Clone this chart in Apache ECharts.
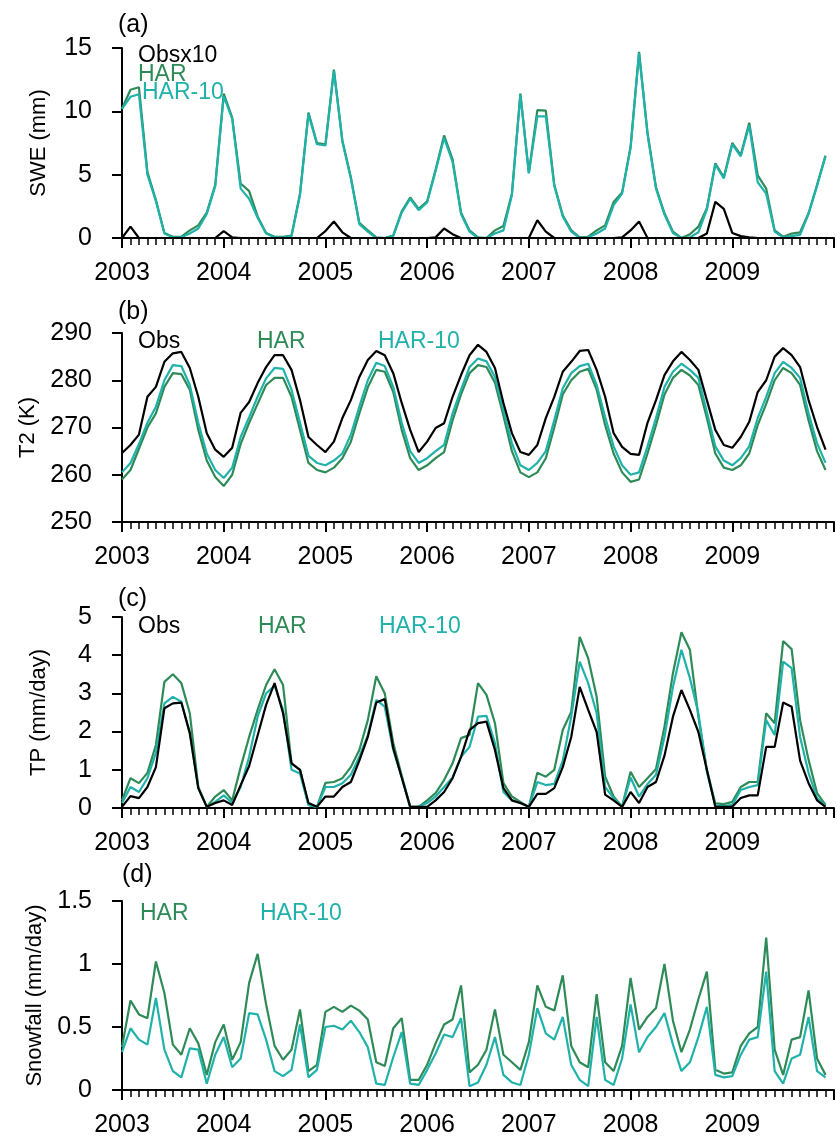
<!DOCTYPE html>
<html>
<head>
<meta charset="utf-8">
<script src="https://cdn.jsdelivr.net/npm/echarts@6/dist/echarts.min.js"></script>
<style>
  html, body { margin: 0; padding: 0; background: #fff; }
  #chart { width: 837px; height: 1143px; }
</style>
</head>
<body>
<div id="chart"></div>
<script>
// monthly values, Jan 2003 .. Dec 2009 (index = month since Jan 2003)
var yearLabels = ['2003', '2004', '2005', '2006', '2007', '2008', '2009'];

// (a) SWE (mm), obs already multiplied by 10
var sweObsX10 = [0,0.9,0,0,0,0,0,0,0,0,0,0, 0.55,0.05,0,0,0,0,0,0,0,0,0,0,
  0.55,1.3,0.45,0,0,0,0,0,0,0,0,0, 0,0.05,0.75,0.3,0,0,0,0,0,0,0,0,
  0,1.4,0.5,0,0,0,0,0,0,0,0,0.05, 0.6,1.3,0,0,0,0,0,0,0,0.35,2.85,2.3,
  0.4,0.15,0.05,0,0,0,0,0,0,0,0,0];
var sweHar = [10.2,11.7,11.9,5.2,3.0,0.4,0.1,0.1,0.6,1.0,2.0,4.2,
  11.4,9.5,4.3,3.7,1.7,0.4,0.1,0.1,0.2,3.5,9.9,7.5,
  7.4,13.3,7.7,4.8,1.2,0.6,0.05,0,0.2,2.1,3.2,2.3,
  2.9,5.4,8.1,6.2,2.0,0.6,0.05,0,0.6,0.95,3.5,11.4,
  5.15,10.1,10.05,4.2,1.8,0.6,0.05,0.1,0.6,1.0,2.85,3.6,
  7.2,14.7,8.3,4.0,1.95,0.5,0,0.3,0.9,2.35,5.9,4.8,
  7.5,6.55,9.1,4.95,3.9,0.6,0.1,0.35,0.45,1.95,4.2,6.5];
var sweHar10 = [10.2,11.15,11.35,5.0,2.9,0.35,0.05,0.05,0.35,0.75,1.9,4.1,
  11.2,9.4,3.9,3.1,1.6,0.35,0.05,0.05,0.15,3.4,9.8,7.4,
  7.3,13.2,7.6,4.7,1.1,0.5,0,0,0.15,2.0,3.1,2.2,
  2.8,5.3,7.9,6.0,1.9,0.5,0,0,0.35,0.6,3.4,11.3,
  5.1,9.6,9.6,4.1,1.7,0.5,0,0.05,0.35,0.75,2.6,3.5,
  7.1,14.6,8.2,3.9,1.85,0.4,0,0.05,0.45,2.25,5.8,4.7,
  7.4,6.45,8.9,4.4,3.5,0.5,0.05,0.15,0.25,1.9,4.1,6.45];

// (b) T2 (K)
var t2Obs = [264.6,266.3,268.5,276.5,278.6,283.9,285.7,286.0,282.6,276.5,268.8,265.3,
  263.8,265.7,273.1,275.4,279.4,282.8,285.3,285.3,282.2,275.8,268.0,266.3,
  264.8,267.0,272.0,275.8,280.7,284.3,286.2,285.3,281.5,275.2,269.5,264.8,
  267.0,269.9,270.9,276.5,281.1,285.3,287.5,286.0,282.6,275.2,268.8,264.8,
  264.2,266.3,272.0,276.5,281.8,283.9,286.2,286.4,282.2,276.5,268.8,265.9,
  264.4,264.2,271.0,275.8,281.1,284.0,286.0,284.3,282.2,275.8,269.5,266.3,
  265.7,268.0,271.2,277.5,280.0,285.0,286.8,285.3,282.8,275.8,270.1,265.3];
var t2Har = [259.0,261.0,265.5,270.0,273.0,278.6,281.5,281.3,278.0,269.5,263.0,259.5,
  257.6,260.0,266.5,271.0,275.0,279.0,280.5,280.5,276.5,269.5,262.5,261.0,
  260.5,261.5,263.5,267.0,273.0,278.5,282.2,281.8,277.5,269.5,263.5,261.0,
  262.0,263.5,264.8,271.5,277.0,281.5,283.2,282.8,279.5,272.5,265.0,260.5,
  259.5,260.5,263.5,270.0,277.0,280.0,281.8,282.4,278.0,270.5,264.5,260.5,
  258.5,259.0,264.5,270.5,277.0,280.5,282.2,281.0,279.0,272.0,264.5,261.5,
  261.0,262.0,264.5,270.5,275.0,280.0,282.6,281.5,279.0,271.5,265.0,261.0];
var t2Har10 = [260.5,262.5,266.5,271.0,274.4,280.0,283.2,283.0,279.0,271.0,264.5,261.0,
  259.3,261.5,268.0,272.2,276.5,280.4,282.6,282.4,278.0,271.0,264.0,262.5,
  262.0,263.0,264.5,268.5,274.4,280.0,283.7,283.0,278.6,271.0,265.0,262.5,
  263.5,265.0,266.3,273.0,278.0,282.8,284.6,284.0,280.7,273.7,266.7,262.0,
  261.0,262.5,265.0,271.6,278.3,281.5,283.0,283.5,279.0,272.2,266.0,262.0,
  260.0,260.5,266.0,272.0,278.6,281.8,283.5,282.2,280.5,273.3,266.0,263.0,
  262.0,263.5,266.0,272.0,276.5,281.5,283.9,282.6,280.5,273.0,266.7,262.5];

// (c) TP (mm/day)
var tpObs = [0.03,0.31,0.26,0.55,1.07,2.61,2.74,2.76,1.96,0.52,0.03,0.13,
  0.2,0.08,0.6,1.1,1.9,2.7,3.27,2.48,1.17,1.0,0.13,0.03,
  0.3,0.3,0.55,0.68,1.24,1.86,2.76,2.85,1.57,0.8,0.03,0.03,
  0.03,0.2,0.42,0.78,1.34,2.04,2.22,2.26,1.52,0.52,0.2,0.13,
  0.03,0.37,0.37,0.52,1.07,1.86,3.17,2.57,1.99,0.35,0.2,0.03,
  0.42,0.13,0.55,0.68,1.37,2.39,3.09,2.57,1.99,1.0,0.03,0.03,
  0.03,0.26,0.33,0.33,1.6,1.6,2.76,2.65,1.24,0.65,0.2,0.03];
var tpHar = [0.2,0.78,0.65,0.92,1.65,3.3,3.5,3.27,2.48,0.55,0.03,0.3,
  0.47,0.2,1.07,1.86,2.57,3.22,3.63,3.22,1.17,1.0,0.08,0.03,
  0.66,0.68,0.78,1.07,1.52,2.3,3.45,3.0,1.7,0.85,0.03,0.03,
  0.2,0.39,0.73,1.17,1.83,1.91,3.27,2.96,2.22,0.65,0.3,0.16,
  0.03,0.92,0.82,1.0,2.04,2.52,4.48,3.92,2.91,0.82,0.3,0.03,
  0.95,0.55,0.78,1.02,2.13,3.53,4.6,4.14,2.39,1.0,0.12,0.1,
  0.16,0.55,0.68,0.68,2.48,2.22,4.37,4.16,2.3,1.26,0.39,0.08];
var tpHar10 = [0.13,0.55,0.42,0.78,1.44,2.74,2.91,2.78,1.96,0.52,0.03,0.16,
  0.33,0.13,0.55,1.34,2.39,3.0,3.2,2.57,1.0,0.9,0.08,0.03,
  0.55,0.55,0.65,0.87,1.34,1.91,2.83,2.65,1.52,0.8,0.03,0.03,
  0.13,0.3,0.55,0.8,1.34,1.6,2.39,2.41,1.7,0.42,0.2,0.13,
  0.03,0.68,0.6,0.63,1.24,2.39,3.83,3.27,2.48,0.55,0.26,0.03,
  0.8,0.3,0.63,0.87,1.86,3.17,4.14,3.4,2.48,0.95,0.06,0.05,
  0.08,0.47,0.55,0.6,2.3,1.91,3.83,3.66,1.86,0.92,0.26,0.06];

// (d) Snowfall (mm/day)
var snowHar = [0.34,0.71,0.60,0.57,1.02,0.77,0.36,0.28,0.49,0.37,0.12,0.38,
  0.52,0.24,0.38,0.85,1.08,0.68,0.35,0.24,0.32,0.64,0.15,0.20,
  0.62,0.66,0.62,0.67,0.63,0.56,0.22,0.19,0.49,0.57,0.08,0.08,
  0.20,0.37,0.52,0.56,0.83,0.14,0.20,0.32,0.64,0.28,0.22,0.16,
  0.38,0.83,0.66,0.63,0.91,0.35,0.22,0.18,0.76,0.22,0.15,0.35,
  0.89,0.48,0.58,0.65,1.00,0.55,0.30,0.48,0.72,0.94,0.16,0.13,
  0.14,0.35,0.45,0.50,1.21,0.32,0.12,0.40,0.42,0.79,0.25,0.12];
var snowHar10 = [0.30,0.49,0.40,0.36,0.73,0.32,0.15,0.10,0.33,0.32,0.05,0.28,
  0.42,0.18,0.25,0.61,0.60,0.40,0.15,0.11,0.16,0.52,0.10,0.16,
  0.50,0.51,0.48,0.55,0.46,0.34,0.05,0.04,0.26,0.46,0.05,0.04,
  0.16,0.29,0.44,0.42,0.57,0.03,0.06,0.20,0.42,0.12,0.06,0.04,
  0.28,0.65,0.45,0.40,0.58,0.20,0.08,0.03,0.58,0.08,0.04,0.25,
  0.68,0.30,0.42,0.50,0.61,0.36,0.15,0.22,0.42,0.66,0.12,0.10,
  0.11,0.28,0.40,0.42,0.94,0.15,0.05,0.25,0.28,0.58,0.15,0.10];

var BLACK = '#000000';
var GREEN = '#2e8b57';
var TEAL = '#20b2aa';
var FONT = '"Liberation Sans", Arial, Helvetica, sans-serif';

var chart = echarts.init(document.getElementById('chart'), null, { renderer: 'canvas' });

// one entry per panel: plot box + y scale + its lines
var panels = [
  { top: 48, height: 190, min: 0, max: 15, interval: 5, name: 'SWE (mm)',
    lines: [[sweHar, GREEN], [sweHar10, TEAL], [sweObsX10, BLACK]] },
  { top: 333, height: 189, min: 250, max: 290, interval: 10, name: 'T2 (K)',
    lines: [[t2Har, GREEN], [t2Har10, TEAL], [t2Obs, BLACK]] },
  { top: 617, height: 191, min: 0, max: 5, interval: 1, name: 'TP (mm/day)',
    lines: [[tpHar, GREEN], [tpHar10, TEAL], [tpObs, BLACK]] },
  { top: 901, height: 189, min: 0, max: 1.5, interval: 0.5, name: 'Snowfall (mm/day)',
    lines: [[snowHar, GREEN], [snowHar10, TEAL]] }
];

function pairs(arr) {
  return arr.map(function (v, i) { return [i, v]; });
}

var grids = [], xAxes = [], yAxes = [], series = [];
panels.forEach(function (p, i) {
  grids.push({ left: 122, right: -7, top: p.top, height: p.height });
  xAxes.push({
    type: 'value', gridIndex: i, min: 0, max: 84, interval: 12,
    axisLine: { onZero: false, lineStyle: { color: BLACK, width: 2 } },
    axisTick: { length: 10, lineStyle: { color: BLACK, width: 2 } },
    minorTick: { show: true, splitNumber: 12, length: 7, lineStyle: { color: BLACK, width: 1.5 } },
    splitLine: { show: false },
    axisLabel: {
      margin: 23, fontSize: 25, color: BLACK, fontFamily: FONT,
      formatter: function (v) { return yearLabels[v / 12] || ''; }
    }
  });
  yAxes.push({
    type: 'value', gridIndex: i, min: p.min, max: p.max, interval: p.interval,
    name: p.name, nameLocation: 'middle', nameGap: 72, nameRotate: 90,
    nameTextStyle: { fontSize: 22, color: BLACK, fontFamily: FONT },
    axisLine: { show: true, onZero: false, lineStyle: { color: BLACK, width: 2 } },
    axisTick: { show: true, length: 10, lineStyle: { color: BLACK, width: 2 } },
    splitLine: { show: false },
    axisLabel: { margin: 30, fontSize: 25, color: BLACK, fontFamily: FONT }
  });
  p.lines.forEach(function (l) {
    series.push({
      type: 'line', xAxisIndex: i, yAxisIndex: i,
      data: pairs(l[0]),
      symbol: 'none',
      lineStyle: { color: l[1], width: 2.2 },
      itemStyle: { color: l[1] }
    });
  });
});

function label(txt, x, y, color, size) {
  return {
    type: 'text', left: x, top: y,
    style: { text: txt, fill: color, font: (size || 23) + 'px ' + FONT }
  };
}

// panel tags and in-plot series names
var texts = [
  label('(a)', 118, 13, BLACK, 25), label('(b)', 118, 300, BLACK, 25),
  label('(c)', 118, 587, BLACK, 25), label('(d)', 122, 863, BLACK, 25),
  label('Obsx10', 138, 44, BLACK), label('HAR', 138, 63, GREEN), label('HAR-10', 142, 81, TEAL),
  label('Obs', 138, 330, BLACK), label('HAR', 257, 330, GREEN), label('HAR-10', 378, 330, TEAL),
  label('Obs', 138, 615, BLACK), label('HAR', 258, 615, GREEN), label('HAR-10', 379, 615, TEAL),
  label('HAR', 140, 902, GREEN), label('HAR-10', 260, 902, TEAL)
];

var option = {
  animation: false,
  backgroundColor: '#ffffff',
  grid: grids,
  xAxis: xAxes,
  yAxis: yAxes,
  series: series,
  graphic: texts
};

chart.setOption(option);
</script>
</body>
</html>
